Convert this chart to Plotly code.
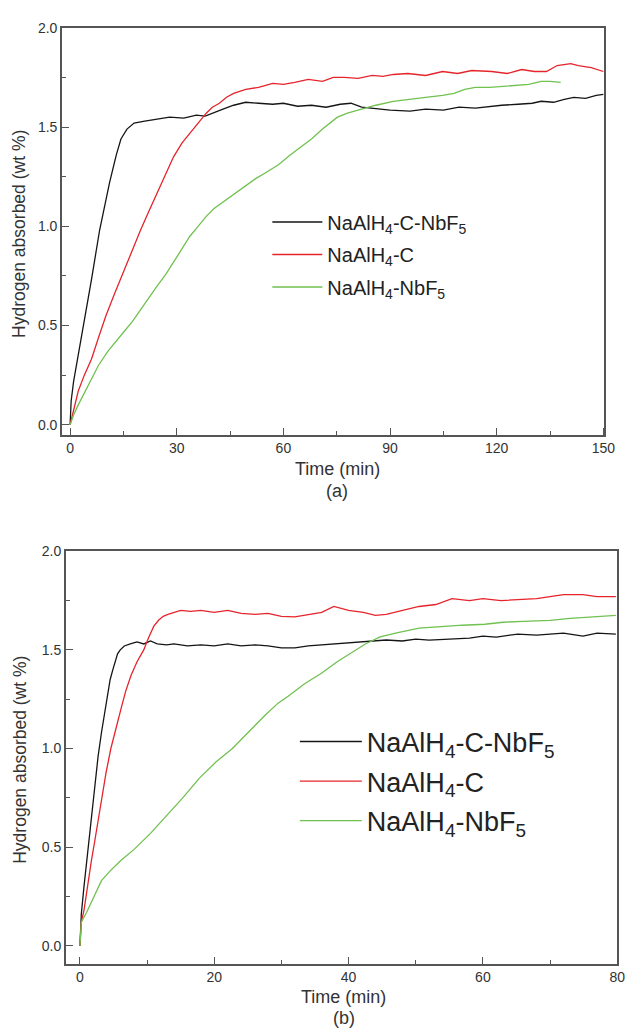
import plotly.graph_objects as go

# ---------- data: panel (a) ----------
a_black_t = [0, 0.3, 1.0, 2.8, 4.5, 6, 8.3, 11.1, 13, 14.3, 16, 18, 21, 24.5, 28, 32, 35.5, 38, 40, 43, 46,
             49.4, 53, 57, 60, 64, 67.9, 72, 76, 79, 82, 86.3, 90, 95.6, 100, 105, 109.4, 114, 118, 121.4,
             126, 130, 132.5, 136, 139, 141.7, 145, 148, 150]
a_black_v = [0, 0.12, 0.22, 0.40, 0.57, 0.73, 0.98, 1.22, 1.36, 1.44, 1.49, 1.52, 1.53, 1.54, 1.55, 1.545,
             1.56, 1.555, 1.57, 1.59, 1.61, 1.625, 1.62, 1.615, 1.62, 1.605, 1.61, 1.60, 1.615, 1.62, 1.60,
             1.59, 1.585, 1.58, 1.59, 1.585, 1.60, 1.595, 1.605, 1.61, 1.615, 1.62, 1.63, 1.625, 1.64, 1.65,
             1.645, 1.66, 1.665]

a_red_t = [0, 1, 2.3, 4, 6, 8, 10.1, 12.5, 15.2, 17.5, 19.8, 22, 24.5, 27, 29.1, 31.5, 33.7, 36, 38.3, 40,
           42, 44, 46, 49.4, 53, 57, 60, 63.2, 67, 71, 74, 77.1, 81, 85, 88, 90.9, 95, 100, 104.8, 109, 113,
           118.6, 123, 127, 130.6, 134, 137, 140.8, 143, 146.6, 150]
a_red_v = [0, 0.08, 0.17, 0.25, 0.33, 0.44, 0.55, 0.66, 0.78, 0.88, 0.98, 1.07, 1.17, 1.27, 1.35, 1.42,
           1.47, 1.52, 1.57, 1.60, 1.62, 1.65, 1.67, 1.69, 1.70, 1.72, 1.715, 1.725, 1.74, 1.73, 1.75, 1.75,
           1.745, 1.76, 1.755, 1.765, 1.77, 1.76, 1.78, 1.77, 1.785, 1.78, 1.77, 1.79, 1.78, 1.78, 1.81,
           1.82, 1.81, 1.80, 1.78]

a_green_t = [0, 1, 2.3, 4, 6, 8, 10.6, 13, 15.2, 17.5, 19.8, 22, 24.5, 27, 29.1, 31.5, 33.7, 36, 38.3, 40.5,
             42.9, 45, 47.5, 50, 52.2, 55, 58.6, 62, 65, 67.9, 71, 73, 75.2, 78, 81.7, 86, 90.9, 95, 100,
             104.8, 108, 111, 114, 118, 121, 125.1, 129, 132.5, 135, 138]
a_green_v = [0, 0.05, 0.10, 0.16, 0.23, 0.30, 0.37, 0.42, 0.47, 0.52, 0.58, 0.64, 0.70, 0.76, 0.82, 0.89,
             0.95, 1.00, 1.05, 1.09, 1.12, 1.15, 1.18, 1.21, 1.24, 1.27, 1.31, 1.36, 1.40, 1.44, 1.49, 1.52,
             1.55, 1.57, 1.59, 1.61, 1.63, 1.64, 1.65, 1.66, 1.67, 1.69, 1.70, 1.70, 1.705, 1.71, 1.715,
             1.73, 1.73, 1.725]

# ---------- data: panel (b) ----------
b_black_t = [0, 0.2, 0.6, 1.2, 1.7, 2.2, 2.7, 3.2, 3.7, 4.1, 4.5, 4.9, 5.3, 5.6, 6.0, 6.6, 7.5, 8.5, 9.5,
             10.5, 11.5, 12.9, 14, 16, 18, 20, 22, 24, 26.1, 28, 30, 32, 34, 36, 38.3, 40, 42, 44, 45.6, 48,
             50, 52, 55.4, 58, 60, 62, 65.2, 68, 70, 72, 74.9, 77, 79.8]
b_black_v = [0, 0.16, 0.30, 0.49, 0.66, 0.83, 0.96, 1.08, 1.19, 1.28, 1.35, 1.40, 1.45, 1.48, 1.50, 1.52,
             1.53, 1.54, 1.53, 1.545, 1.53, 1.525, 1.53, 1.52, 1.525, 1.52, 1.53, 1.52, 1.525, 1.52, 1.51,
             1.51, 1.52, 1.525, 1.53, 1.535, 1.54, 1.545, 1.55, 1.545, 1.555, 1.55, 1.555, 1.56, 1.57, 1.565,
             1.58, 1.575, 1.58, 1.585, 1.57, 1.585, 1.58]

b_red_t = [0, 0.2, 0.6, 1.2, 1.7, 2.2, 2.7, 3.2, 3.9, 4.6, 5.3, 6.1, 6.8, 7.6, 8.5, 9.5, 10.2, 11, 11.7,
           12.4, 13.1, 13.9, 15, 16.5, 18, 20, 22, 24, 26.1, 28, 30, 32, 34, 36, 37.8, 40, 42.2, 44, 45.6, 48,
           50.5, 53, 55.4, 58, 60, 62.7, 65, 68, 70, 72, 74.9, 77, 79.8]
b_red_v = [0, 0.12, 0.18, 0.33, 0.43, 0.53, 0.64, 0.75, 0.88, 1.00, 1.10, 1.20, 1.29, 1.37, 1.44, 1.50,
           1.56, 1.62, 1.65, 1.67, 1.68, 1.69, 1.70, 1.695, 1.70, 1.69, 1.70, 1.685, 1.68, 1.685, 1.67, 1.667,
           1.68, 1.69, 1.72, 1.70, 1.69, 1.675, 1.68, 1.70, 1.72, 1.73, 1.76, 1.75, 1.76, 1.75, 1.755, 1.76,
           1.77, 1.78, 1.78, 1.77, 1.77]

b_green_t = [0, 0.2, 1, 2, 3.2, 4.5, 6, 8.1, 10.5, 12.9, 15.3, 17.8, 20.2, 22.7, 25, 27.6, 29.5, 31, 33.5,
             35.9, 38.3, 40.7, 42.5, 44.7, 47, 50.5, 54, 57, 60.3, 63, 66, 70, 73, 76, 79.8]
b_green_v = [0, 0.12, 0.17, 0.24, 0.33, 0.38, 0.43, 0.49, 0.57, 0.66, 0.75, 0.85, 0.93, 1.00, 1.08, 1.17,
             1.23, 1.265, 1.33, 1.38, 1.44, 1.49, 1.53, 1.566, 1.585, 1.61, 1.62, 1.625, 1.63, 1.64, 1.645,
             1.65, 1.66, 1.665, 1.675]

names = ["NaAlH<sub>4</sub>-C-NbF<sub>5</sub>", "NaAlH<sub>4</sub>-C", "NaAlH<sub>4</sub>-NbF<sub>5</sub>"]
colors = ["#151515", "#e5242b", "#70c150"]

W, H = 640, 1032
FONT = "Liberation Sans, Arial, sans-serif"
AX = "#555555"
TXT = "#333333"


def px(x):
    return x / W


def py(y):
    return 1 - y / H


fig = go.Figure()
panel_a = [(a_black_t, a_black_v), (a_red_t, a_red_v), (a_green_t, a_green_v)]
panel_b = [(b_black_t, b_black_v), (b_red_t, b_red_v), (b_green_t, b_green_v)]
for i, (t, v) in enumerate(panel_a):
    fig.add_trace(go.Scatter(x=t, y=v, mode="lines", name=names[i], xaxis="x", yaxis="y",
                             legendgroup="a%d" % i,
                             line=dict(color=colors[i], width=1.3), legend="legend"))
for i, (t, v) in enumerate(panel_b):
    fig.add_trace(go.Scatter(x=t, y=v, mode="lines", name=names[i], xaxis="x2", yaxis="y2",
                             legendgroup="b%d" % i,
                             line=dict(color=colors[i], width=1.3), legend="legend2"))

common = dict(showline=True, linecolor=AX, linewidth=1.5, mirror=True, ticks="inside", tickcolor=AX,
              tickwidth=1.2, ticklen=7, showgrid=False, zeroline=False,
              tickfont=dict(family=FONT, size=14, color=TXT))

fig.update_layout(
    width=W, height=H, margin=dict(l=0, r=0, t=0, b=0),
    paper_bgcolor="white", plot_bgcolor="white",
    font=dict(family=FONT, color=TXT),
    xaxis=dict(domain=[px(63), px(615)], range=[-2.3, 150.3], anchor="y", tickvals=[0, 30, 60, 90, 120, 150],
               minor=dict(tickvals=[15, 45, 75, 105, 135], ticks="inside", ticklen=4, tickcolor=AX),
               **common),
    yaxis=dict(domain=[py(430), py(20)], range=[-0.05, 2.0], anchor="x",
               tickvals=[0, 0.5, 1.0, 1.5, 2.0], ticktext=["0.0", "0.5", "1.0", "1.5", "2.0"],
               minor=dict(tickvals=[0.25, 0.75, 1.25, 1.75], ticks="inside", ticklen=4, tickcolor=AX),
               **common),
    xaxis2=dict(domain=[px(67), px(628)], range=[-2.1, 80], anchor="y2", tickvals=[0, 20, 40, 60, 80],
                minor=dict(tickvals=[10, 30, 50, 70], ticks="inside", ticklen=4, tickcolor=AX),
                **common),
    yaxis2=dict(domain=[py(963), py(547.5)], range=[-0.09, 2.0], anchor="x2",
                tickvals=[0, 0.5, 1.0, 1.5, 2.0], ticktext=["0.0", "0.5", "1.0", "1.5", "2.0"],
                minor=dict(tickvals=[0.25, 0.75, 1.25, 1.75], ticks="inside", ticklen=4, tickcolor=AX),
                **common),
    legend=dict(x=px(272), y=py(196), xanchor="left", yanchor="top", bgcolor="rgba(0,0,0,0)",
                font=dict(family=FONT, size=20, color="#222222"), itemwidth=50, tracegroupgap=3.5),
    legend2=dict(x=px(300), y=py(715), xanchor="left", yanchor="top", bgcolor="rgba(0,0,0,0)",
                 font=dict(family=FONT, size=27, color="#222222"), itemwidth=62, tracegroupgap=1.5),
    showlegend=True,
)

ann = []
for ytxt, txt, xc in [(465, "Time (min)", 343), (487, "(a)", 343), (997, "Time (min)", 350), (1018, "(b)", 350)]:
    ann.append(dict(x=px(xc), y=py(ytxt), xref="paper", yref="paper", text=txt, showarrow=False,
                    font=dict(family=FONT, size=18, color=TXT), xanchor="center", yanchor="middle"))
for yc in [228, 758]:
    ann.append(dict(x=px(20), y=py(yc), xref="paper", yref="paper", text="Hydrogen absorbed (wt %)",
                    showarrow=False, textangle=-90, font=dict(family=FONT, size=17.5, color=TXT),
                    xanchor="center", yanchor="middle"))
fig.update_layout(annotations=ann)

fig.write_html("out.html")
